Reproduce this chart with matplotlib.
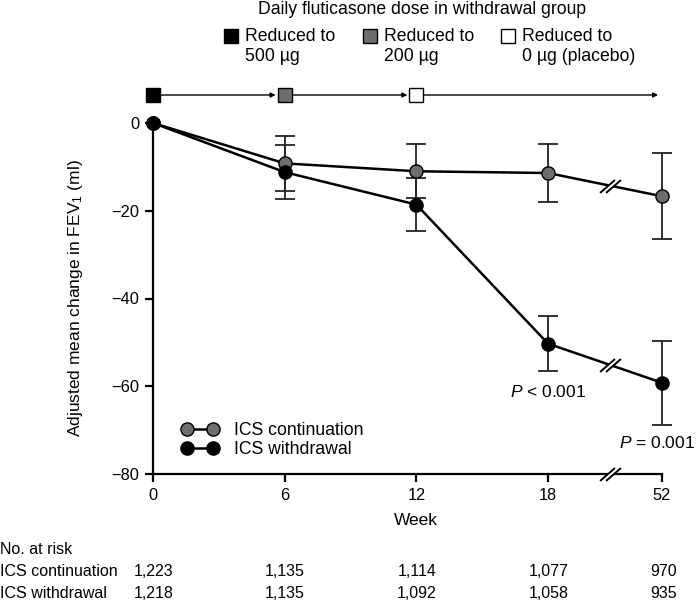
import numpy as np
import matplotlib
matplotlib.use('Agg')
import matplotlib.pyplot as plt
from matplotlib.path import Path
from matplotlib.markers import MarkerStyle

plt.rcParams['font.family'] = ['Liberation Sans', 'DejaVu Sans']
plt.rcParams['mathtext.fontset'] = 'custom'
plt.rcParams['mathtext.rm'] = 'Liberation Sans'
plt.rcParams['mathtext.it'] = 'Liberation Sans:italic'
plt.rcParams['font.size'] = 12.7

# data
weeks = ['0', '6', '12', '18', '52']
pos = [0, 1, 2, 3, 3.865]          # 52 sits after an axis break
cont_mean = [0, -9.2, -11.0, -11.4, -16.7]
cont_err = [0, 6.2, 6.1, 6.6, 9.8]
wd_mean = [0, -11.2, -18.6, -50.3, -59.2]
wd_err = [0, 6.1, 6.0, 6.3, 9.6]
risk_cont = ['1,223', '1,135', '1,114', '1,077', '970']
risk_wd = ['1,218', '1,135', '1,092', '1,058', '935']
dose_weeks_idx = [0, 1, 2]
dose_labels = ['Reduced to\n500 µg', 'Reduced to\n200 µg', 'Reduced to\n0 µg (placebo)']
dose_colors = ['black', '#6e6e6e', 'white']
break_pos = 3.47

W, H = 697, 604
fig = plt.figure(figsize=(W / 100, H / 100), dpi=100)
ax = fig.add_axes([153 / W, 1 - 474 / H, (662 - 153) / W, (474 - 123) / H])

gray = '#6e6e6e'
for m, e, c, lab in [(cont_mean, cont_err, gray, 'ICS continuation'),
                     (wd_mean, wd_err, 'black', 'ICS withdrawal')]:
    ax.errorbar(pos[1:], m[1:], yerr=e[1:], fmt='none', ecolor='#222222',
                elinewidth=1.3, capsize=7.5, capthick=1.3, zorder=2, clip_on=False)
    ax.plot(pos, m, '-o', color='black', lw=1.8, ms=9.5, mfc=c, mec='black',
            mew=1.0, label=lab, zorder=3, clip_on=False)

# break marks  //
sx = [(-10.5, -6.5), (4.5, 6.5), (-4.5, -6.5), (10.5, 6.5)]
slash = MarkerStyle(Path(sx, [Path.MOVETO, Path.LINETO, Path.MOVETO, Path.LINETO]))
gap = MarkerStyle(Path([sx[0], sx[1], sx[3], sx[2], sx[0]]))
bx = [break_pos, break_pos, break_pos]
by = [np.interp(break_pos, pos, cont_mean), np.interp(break_pos, pos, wd_mean), -80]
ax.plot(bx, by, ls='none', marker=gap, ms=15, mfc='white', mec='none', zorder=5, clip_on=False)
ax.plot(bx, by, ls='none', marker=slash, ms=15, mfc='none', mec='black', mew=1.4,
        zorder=6, clip_on=False)

ax.set_xlim(0, pos[-1])
ax.set_ylim(-80, 0)
ax.set_xticks(pos)
ax.set_xticklabels(weeks)
ax.set_yticks([0, -20, -40, -60, -80])
ax.set_yticklabels(['0', '\u221220', '\u221240', '\u221260', '\u221280'])
for s in ['top', 'right']:
    ax.spines[s].set_visible(False)
for s in ['left', 'bottom']:
    ax.spines[s].set_linewidth(1.6)
ax.tick_params(length=6, width=1.6, labelsize=11.8, pad=4)
ax.set_ylabel('Adjusted mean change in FEV$_1$ (ml)', fontsize=12.5)
ax.yaxis.set_label_coords((85 - 153) / 509, 0.5)
ax.text(pos[2], -80 - 47 / 4.39, 'Week', ha='center', va='center', fontsize=12.5)

ax.text(pos[3], -61.3, '$P$ < 0.001', ha='center', va='center', fontsize=12.5)
ax.text(pos[4] + 33 / 131.7, -72.9, '$P$ = 0.001', ha='right', va='center', fontsize=12.5)

ax.legend(loc='lower left', bbox_to_anchor=(0.057, 0.045), frameon=False,
          numpoints=2, handlelength=2.05, handletextpad=0.9, labelspacing=0.12,
          borderaxespad=0, borderpad=0, fontsize=12.7)

# dose timeline above the plot
ty = (474 - 95) / 351
tr = ax.get_xaxis_transform()
ends = dose_weeks_idx[1:] + [None]
for i, k in enumerate(dose_weeks_idx):
    x0 = pos[k]
    x1 = pos[ends[i]] if ends[i] is not None else 3.835
    ax.annotate('', xy=(x1, ty), xytext=(x0, ty), xycoords=tr, textcoords=tr,
                arrowprops=dict(arrowstyle='-|>', lw=1.0, color='black',
                                mutation_scale=7, shrinkA=0,
                                shrinkB=6.5 if ends[i] is not None else 0),
                annotation_clip=False)
for k, c in zip(dose_weeks_idx, dose_colors):
    ax.plot([pos[k]], [ty], 's', transform=tr, ms=9.5, mfc=c, mec='black',
            mew=1.0, clip_on=False, zorder=5)

fig.text(422 / W, 1 - 10 / H, 'Daily fluticasone dose in withdrawal group',
         ha='center', va='center', fontsize=12.7)
key_x = [231, 370, 508]
for x, c, lab in zip(key_x, dose_colors, dose_labels):
    fig.lines.append(plt.Line2D([x / W], [1 - 36 / H], marker='s', ms=9.5, mfc=c,
                                mec='black', mew=1.0, transform=fig.transFigure))
    fig.text((x + 14) / W, 1 - 28 / H, lab, ha='left', va='top', fontsize=12.7,
             linespacing=1.22, transform=fig.transFigure)

# risk table
col_x = [154, 285, 417, 549, 664]
fig.text(0, 1 - 550 / H, 'No. at risk', ha='left', va='center', fontsize=11.5)
for row_y, name, vals in [(572, 'ICS continuation', risk_cont), (593, 'ICS withdrawal', risk_wd)]:
    fig.text(0, 1 - row_y / H, name, ha='left', va='center', fontsize=11.5)
    for x, v in zip(col_x, vals):
        fig.text(x / W, 1 - row_y / H, v, ha='center', va='center', fontsize=11.5)

fig.savefig('out.png', dpi=100)
